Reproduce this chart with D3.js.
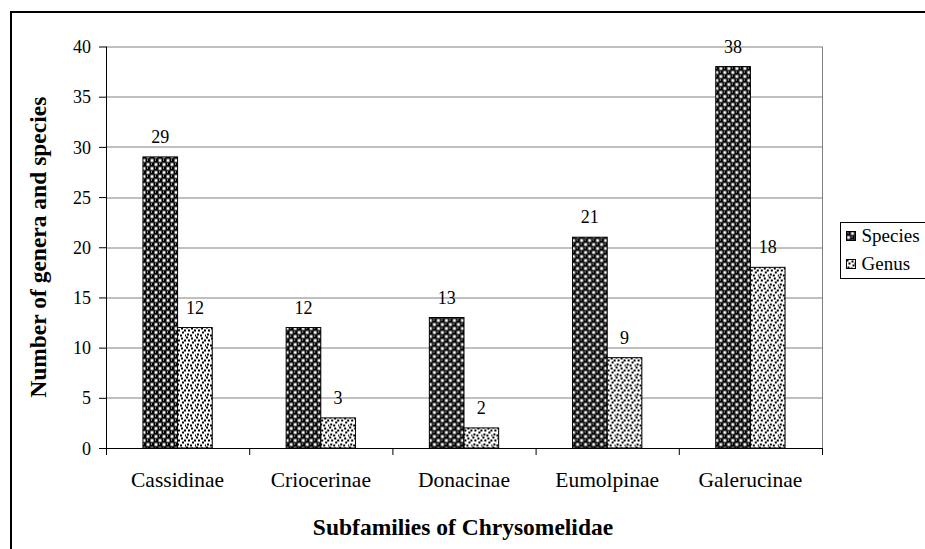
<!DOCTYPE html>
<html>
<head>
<meta charset="utf-8">
<script src="https://cdn.jsdelivr.net/npm/d3@7"></script>
<style>
  body { margin: 0; background: #fff; }
  svg text { font-family: "Liberation Serif", "Times New Roman", serif; fill: #000; }
</style>
</head>
<body>
<div id="chart"></div>
<script>
const categories = ['Cassidinae', 'Criocerinae', 'Donacinae', 'Eumolpinae', 'Galerucinae'];
const speciesValues = [29, 12, 13, 21, 38];
const genusValues = [12, 3, 2, 9, 18];
const seriesNames = ['Species', 'Genus'];
const yTicks = [0, 5, 10, 15, 20, 25, 30, 35, 40];

const FONT = '"Liberation Serif", "Times New Roman", serif';
const W = 925, H = 549;
const m = { top: 46.5, right: 103, bottom: 101, left: 106 };
const w = W - m.left - m.right;
const h = H - m.top - m.bottom;

const svg = d3.select('#chart').append('svg')
  .attr('width', W).attr('height', H)
  .attr('font-family', FONT);

// Motifs de remplissage
const defs = svg.append('defs');
const pSpecies = defs.append('pattern')
  .attr('id', 'pat-species').attr('patternUnits', 'userSpaceOnUse')
  .attr('width', 8).attr('height', 8);
pSpecies.append('rect').attr('width', 8).attr('height', 8).attr('fill', '#000');
[[4.5, 0.5], [0.5, 4.5]].forEach(([px, py]) => {
  pSpecies.append('rect').attr('x', px).attr('y', py).attr('width', 3).attr('height', 3).attr('fill', '#fff');
});
[[1, 1], [5, 5]].forEach(([px, py]) => {
  pSpecies.append('rect').attr('x', px).attr('y', py).attr('width', 1).attr('height', 1).attr('fill', '#fff');
});

const pGenus = defs.append('pattern')
  .attr('id', 'pat-genus').attr('patternUnits', 'userSpaceOnUse')
  .attr('width', 10).attr('height', 10);
pGenus.append('rect').attr('width', 10).attr('height', 10).attr('fill', '#fff');
[[0, 0], [5, 1], [2, 3], [8, 3], [6, 5], [1, 7], [4, 8], [9, 8]].forEach(([px, py]) => {
  pGenus.append('rect').attr('x', px).attr('y', py).attr('width', 2).attr('height', 2).attr('fill', '#000');
});

const fills = ['url(#pat-species)', 'url(#pat-genus)'];

// Cadre extérieur
svg.append('path')
  .attr('d', `M11,${H} V12 H${W}`)
  .attr('fill', 'none').attr('stroke', '#000').attr('stroke-width', 2);

const g = svg.append('g').attr('transform', `translate(${m.left},${m.top})`);

const x0 = d3.scaleBand().domain(categories).range([0, w]);
const x1 = d3.scaleBand().domain(seriesNames)
  .range([x0.bandwidth() * 0.258, x0.bandwidth() * 0.742]);
const y = d3.scaleLinear().domain([0, 40]).range([h, 0]);

// Grille
g.append('g').selectAll('line').data(yTicks.filter(d => d > 0)).join('line')
  .attr('x1', 0).attr('x2', w)
  .attr('y1', d => Math.round(y(d)) + 0.5).attr('y2', d => Math.round(y(d)) + 0.5)
  .attr('stroke', '#808080').attr('stroke-width', 1);
g.append('line')
  .attr('x1', w + 0.5).attr('x2', w + 0.5).attr('y1', 0).attr('y2', h)
  .attr('stroke', '#808080').attr('stroke-width', 1);

// Barres
const data = categories.map((c, i) => ({ cat: c, vals: [speciesValues[i], genusValues[i]] }));
const groups = g.selectAll('.grp').data(data).join('g')
  .attr('transform', d => `translate(${x0(d.cat)},0)`);
groups.selectAll('rect')
  .data(d => d.vals.map((v, k) => ({ key: seriesNames[k], v, k })))
  .join('rect')
  .attr('x', d => x1(d.key)).attr('y', d => y(d.v))
  .attr('width', x1.bandwidth()).attr('height', d => h - y(d.v))
  .attr('fill', d => fills[d.k]).attr('stroke', '#000').attr('stroke-width', 1);
groups.selectAll('text')
  .data(d => d.vals.map((v, k) => ({ key: seriesNames[k], v })))
  .join('text')
  .attr('x', d => x1(d.key) + x1.bandwidth() / 2).attr('y', d => y(d.v) - 14)
  .attr('text-anchor', 'middle').style('font-size', '18px')
  .text(d => d.v);

// Axe Y
g.append('g')
  .call(d3.axisLeft(y).tickValues(yTicks).tickSize(7).tickPadding(8))
  .call(gg => gg.attr('font-family', FONT))
  .call(gg => gg.select('.domain').attr('stroke', '#000').attr('d', `M0.5,0V${h}`))
  .call(gg => gg.selectAll('line').attr('stroke', '#000'))
  .call(gg => gg.selectAll('text')
    .style('font-size', '18px').attr('dy', '0.34em').attr('fill', '#000'));

// Axe X
const bounds = d3.range(categories.length + 1).map(i => i * x0.bandwidth());
const xa = g.append('g').attr('transform', `translate(0,${h})`);
xa.append('line').attr('x1', 0).attr('x2', w).attr('y1', 0.5).attr('y2', 0.5).attr('stroke', '#000');
xa.selectAll('.tk').data(bounds).join('line')
  .attr('x1', d => d + 0.5).attr('x2', d => d + 0.5).attr('y1', 0).attr('y2', 7)
  .attr('stroke', '#000');
xa.selectAll('text').data(categories).join('text')
  .attr('x', d => x0(d) + x0.bandwidth() / 2).attr('y', 39)
  .attr('text-anchor', 'middle').style('font-size', '21.5px')
  .text(d => d);

// Titres d'axes
svg.append('text')
  .attr('x', m.left + w / 2 - 1).attr('y', 535)
  .attr('text-anchor', 'middle').style('font-size', '23.5px').style('font-weight', 'bold')
  .text('Subfamilies of Chrysomelidae');
svg.append('text')
  .attr('transform', `translate(46,${m.top + h / 2}) rotate(-90)`)
  .attr('text-anchor', 'middle').style('font-size', '23.5px').style('font-weight', 'bold')
  .text('Number of genera and species');

// Légende
const lg = svg.append('g').attr('transform', 'translate(840.5,222.5)');
lg.append('rect').attr('width', 100).attr('height', 56)
  .attr('fill', '#fff').attr('stroke', '#000').attr('stroke-width', 1);
seriesNames.forEach((s, k) => {
  const row = lg.append('g').attr('transform', `translate(6,${9 + k * 28})`);
  row.append('rect').attr('width', 9).attr('height', 9)
    .attr('fill', fills[k]).attr('stroke', '#000');
  row.append('text').attr('x', 15).attr('y', 10).style('font-size', '19px').text(s);
});
</script>
</body>
</html>
